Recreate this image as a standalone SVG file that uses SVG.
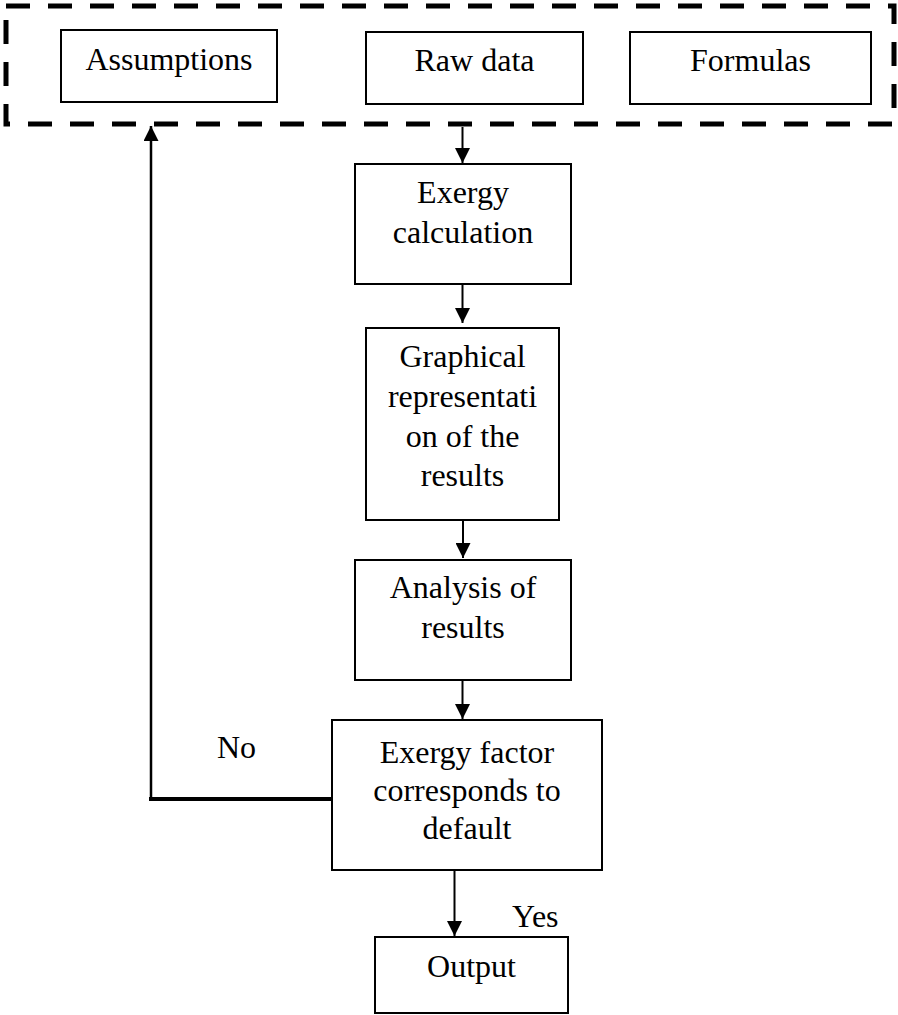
<svg xmlns="http://www.w3.org/2000/svg" width="898" height="1015" viewBox="0 0 898 1015">
<style>
.box{fill:#fff;stroke:#000;stroke-width:2}
.t{font-family:"Liberation Serif","Times New Roman",serif;font-size:32px;fill:#000;text-anchor:middle}
.l{font-family:"Liberation Serif","Times New Roman",serif;font-size:32px;fill:#000}
.c{fill:none;stroke:#000;stroke-width:2}
</style>
<defs>
<marker id="ah" viewBox="0 0 15 15" refX="15" refY="7.5" markerWidth="15" markerHeight="15" markerUnits="userSpaceOnUse" orient="auto">
<path d="M0,0 L15,7.5 L0,15 Z" fill="#000"/>
</marker>
</defs>
<g id="inputs-group">
<rect x="6" y="6" width="888" height="118" fill="none" stroke="#000" stroke-width="5" stroke-dasharray="24 18"/>
</g>
<g id="assumptions">
<rect class="box" x="61" y="30" width="216" height="72"/>
<text class="t" x="169" y="70">Assumptions</text>
</g>
<g id="rawdata">
<rect class="box" x="366" y="32" width="217" height="72"/>
<text class="t" x="474.5" y="71">Raw data</text>
</g>
<g id="formulas">
<rect class="box" x="630" y="32" width="241" height="72"/>
<text class="t" x="750.5" y="71">Formulas</text>
</g>
<g id="exergy-calc">
<rect class="box" x="355" y="164" width="216" height="120"/>
<text class="t" x="463" y="203">Exergy</text>
<text class="t" x="463" y="243">calculation</text>
</g>
<g id="graphical">
<rect class="box" x="366" y="328" width="193" height="192"/>
<text class="t" x="462.5" y="367">Graphical</text>
<text class="t" x="462.5" y="407">representati</text>
<text class="t" x="462.5" y="447">on of the</text>
<text class="t" x="462.5" y="486">results</text>
</g>
<g id="analysis">
<rect class="box" x="355" y="560" width="216" height="120"/>
<text class="t" x="463" y="598">Analysis of</text>
<text class="t" x="463" y="638">results</text>
</g>
<g id="decision">
<rect class="box" x="332" y="720" width="270" height="150"/>
<text class="t" x="467" y="763">Exergy factor</text>
<text class="t" x="467" y="801">corresponds to</text>
<text class="t" x="467" y="839">default</text>
</g>
<g id="output">
<rect class="box" x="375" y="937" width="193" height="76"/>
<text class="t" x="471.5" y="977">Output</text>
</g>
<g id="connectors">
<line class="c" x1="462.5" y1="127" x2="462.5" y2="163" marker-end="url(#ah)"/>
<line class="c" x1="462.5" y1="284" x2="462.5" y2="323" marker-end="url(#ah)"/>
<line class="c" x1="463" y1="520" x2="463" y2="558" marker-end="url(#ah)"/>
<line class="c" x1="462.5" y1="680" x2="462.5" y2="719" marker-end="url(#ah)"/>
<line class="c" x1="454.5" y1="870" x2="454.5" y2="936" marker-end="url(#ah)"/>
<line x1="332" y1="799" x2="149" y2="799" stroke="#000" stroke-width="4"/>
<line x1="151" y1="801" x2="151" y2="126" stroke="#000" stroke-width="2.5" marker-end="url(#ah)"/>
<text class="l" x="217" y="758">No</text>
<text class="l" x="512" y="927">Yes</text>
</g>
</svg>
